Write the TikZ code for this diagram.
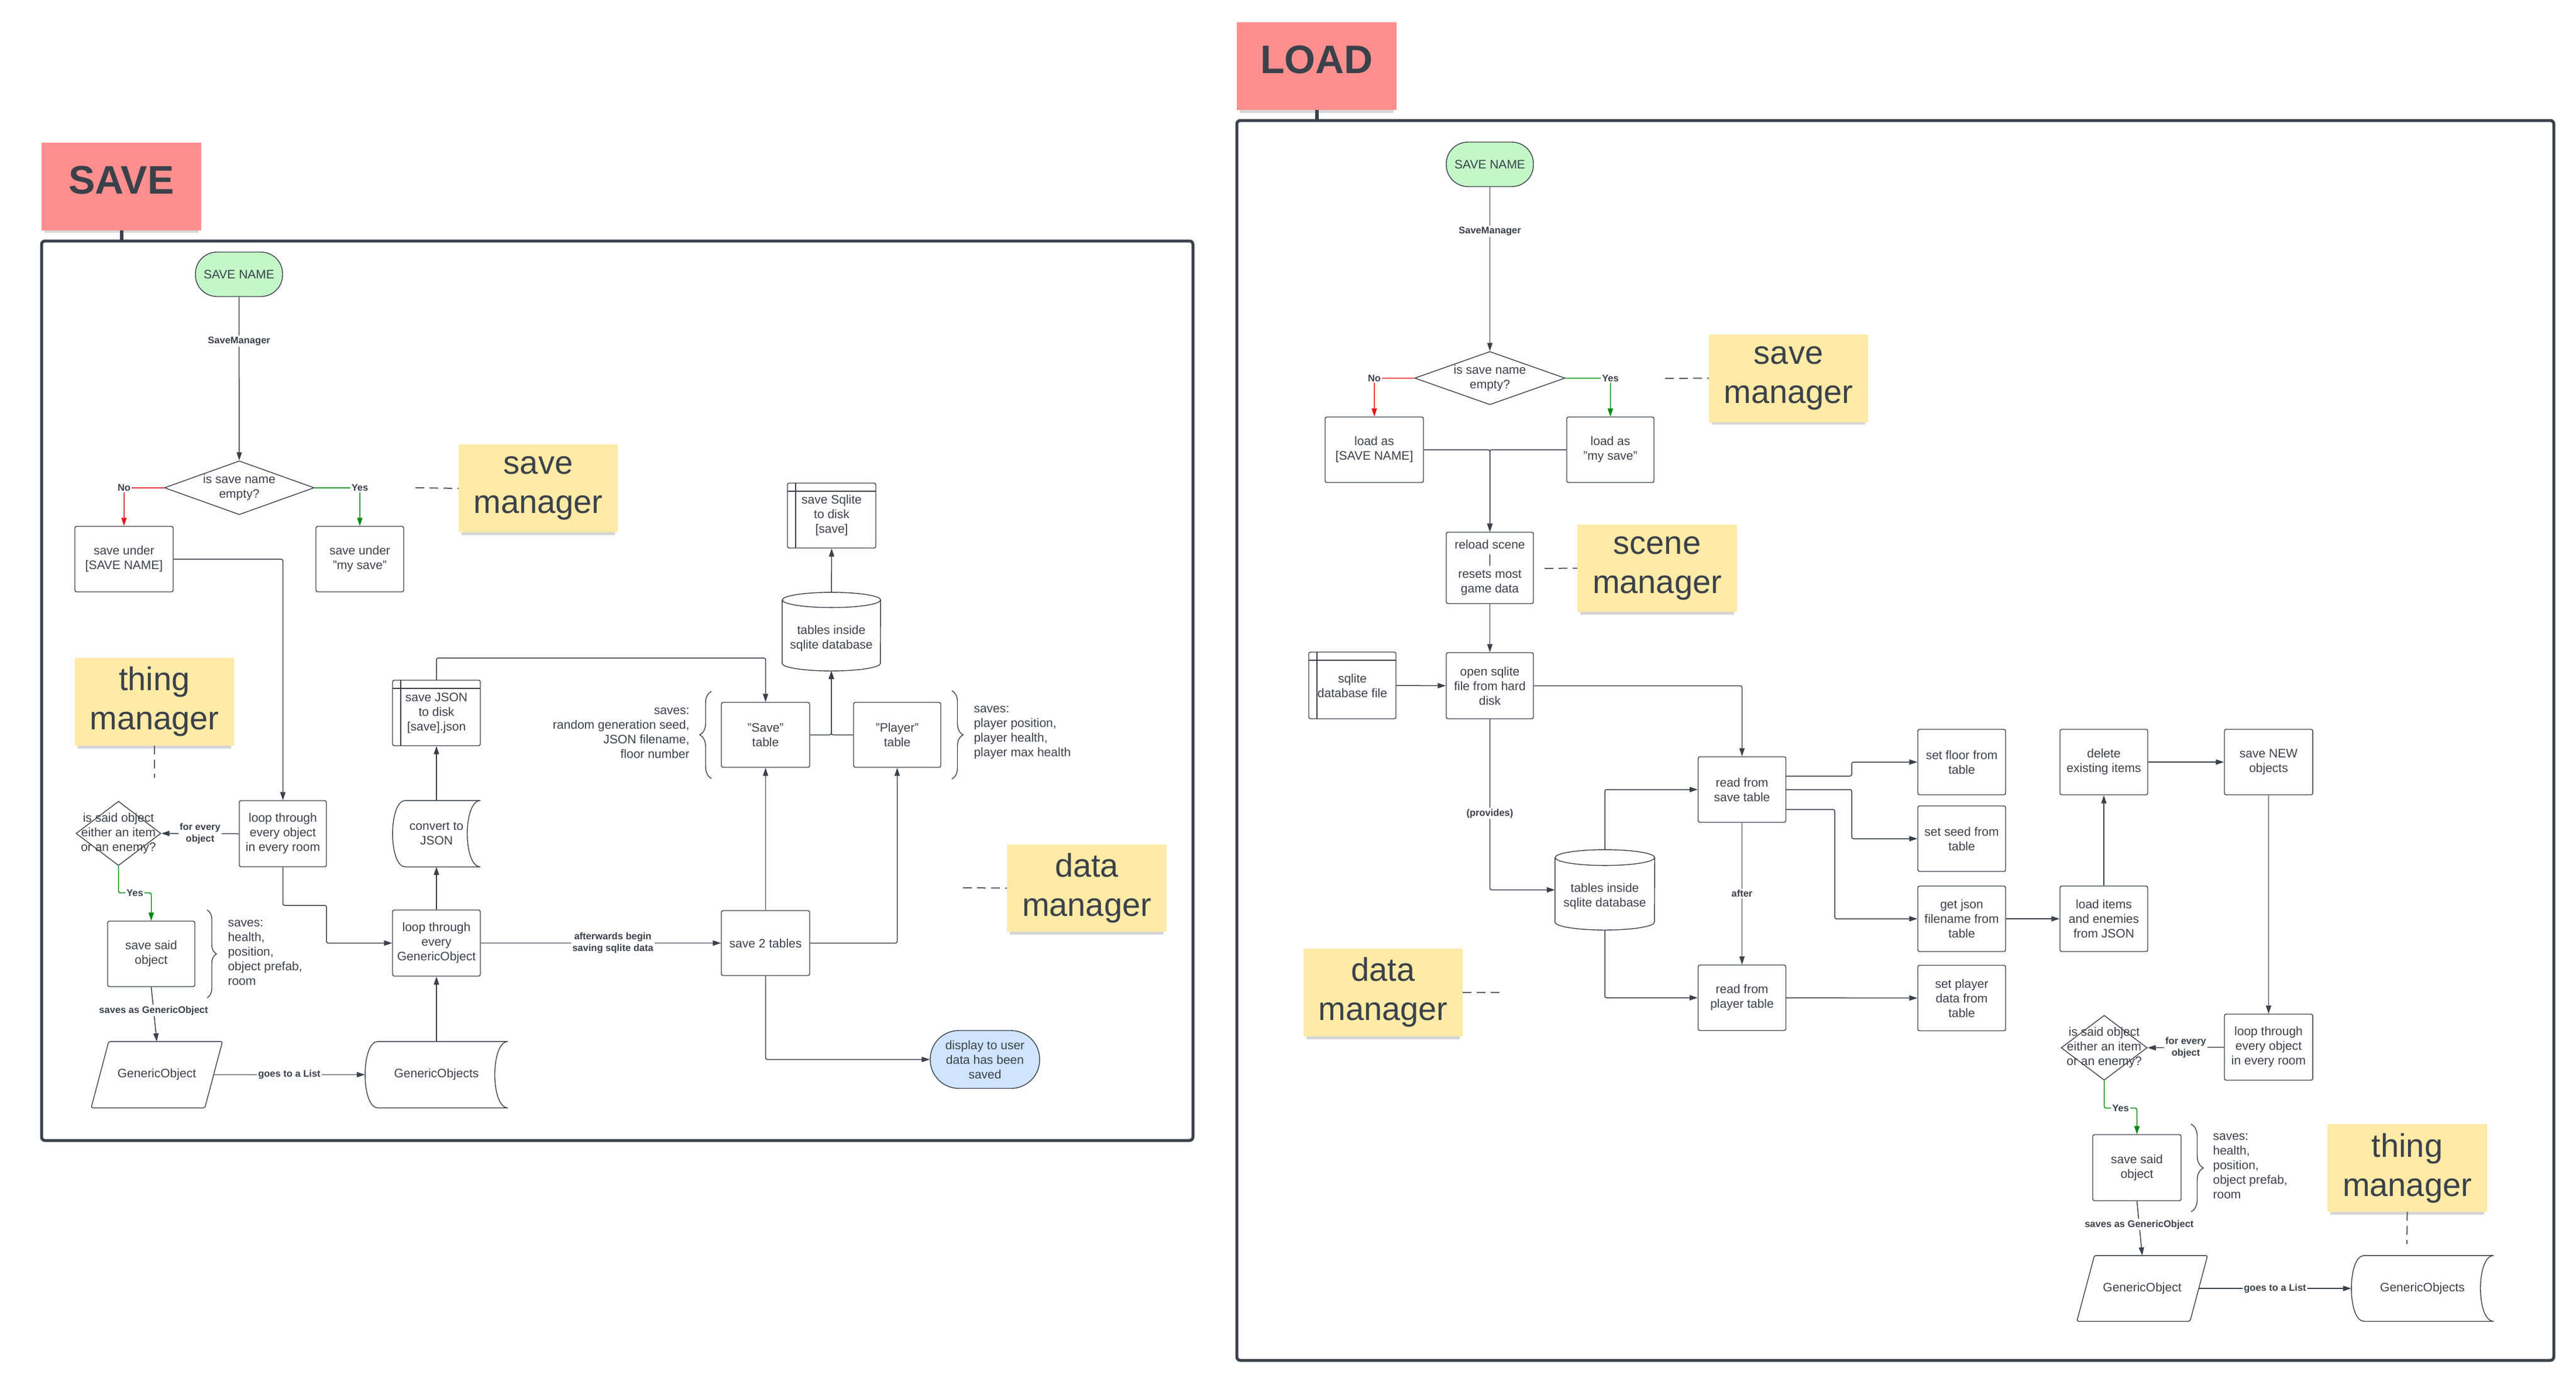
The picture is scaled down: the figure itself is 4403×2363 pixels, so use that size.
\documentclass[tikz,border=0pt]{standalone}
\usepackage{fontspec}
\setmainfont{Liberation Sans}
\usetikzlibrary{arrows.meta,decorations.pathreplacing,shapes.geometric,shadows}
\definecolor{ink}{HTML}{3A414A}
\definecolor{notey}{HTML}{FFEAA6}
\definecolor{notered}{HTML}{FF8F8F}
\definecolor{termgreen}{HTML}{C3F7C8}
\definecolor{termblue}{HTML}{CFE4FF}
\definecolor{nored}{HTML}{E81313}
\definecolor{yesgreen}{HTML}{008A0E}
\newcommand\storedoutline[1]{\draw[shapeline] ([xshift=22pt]#1.north west) -- (#1.north east) .. controls ([xshift=-30pt]#1.north east) and ([xshift=-30pt]#1.south east) .. (#1.south east) -- ([xshift=22pt]#1.south west) .. controls ([xshift=-7pt]#1.south west) and ([xshift=-7pt]#1.north west) .. ([xshift=22pt]#1.north west);}
\newcommand\paraoutline[1]{\draw[shapeline,rounded corners=3pt] ([xshift=30pt]#1.north west) -- (#1.north east) -- ([xshift=-30pt]#1.south east) -- (#1.south west) -- cycle;}
\newcommand\cylinderoutline[3]{\draw[shapeline] ([yshift=-#3pt]#1.north west) -- ([yshift=#3pt]#1.south west) arc[start angle=180,end angle=360,x radius=#2pt,y radius=#3pt] -- ([yshift=-#3pt]#1.north east) arc[start angle=0,end angle=180,x radius=#2pt,y radius=#3pt] arc[start angle=180,end angle=360,x radius=#2pt,y radius=#3pt];}
\begin{document}
\begin{tikzpicture}[x=1pt,y=-1pt,
 txt/.style={font=\fontsize{21}{25}\selectfont, text=ink, align=center},
 box/.style={txt, draw=ink, line width=1.4pt, rounded corners=3pt, fill=white, inner sep=0pt},
 term/.style={txt, draw=ink, line width=1.4pt, inner sep=0pt},
 istore/.style={box, path picture={\draw[draw=ink, line width=1.2pt] ([yshift=-14pt]path picture bounding box.north west) -- ([yshift=-14pt]path picture bounding box.north east) ([xshift=14pt]path picture bounding box.north west) -- ([xshift=14pt]path picture bounding box.south west);}},
 plainbox/.style={txt, inner sep=0pt},
 dia/.style={diamond, draw=ink, line width=1.4pt, fill=white, inner sep=0pt},
 note/.style={fill=notey, text=ink, font=\fontsize{56}{67}\selectfont, align=center, inner sep=0pt, minimum width=272pt, minimum height=150pt, drop shadow={shadow xshift=0pt, shadow yshift=-8pt, shadow scale=0.96, opacity=0.16, fill=black}},
 titlebox/.style={fill=notered, text=ink, font=\bfseries\fontsize{68}{80}\selectfont, inner sep=0pt, text depth=22pt, minimum width=273pt, minimum height=150pt, drop shadow={shadow xshift=0pt, shadow yshift=-8pt, shadow scale=0.96, opacity=0.16, fill=black}},
 conn/.style={draw=ink, line width=1.5pt, rounded corners=3pt, -{Triangle[length=14pt,width=9pt]}},
 clabel/.style={font=\bfseries\fontsize{16.5}{20}\selectfont, text=ink, fill=white, inner sep=2pt, align=center},
 dashln/.style={draw=ink!85, line width=2pt, dash pattern=on 15pt off 9pt},
 framest/.style={draw=ink, line width=5pt, rounded corners=6pt},
 stub/.style={draw=ink, line width=6pt},
 bracedec/.style={draw=ink, line width=1.4pt, decorate, decoration={brace, amplitude=#1}},
 shapeline/.style={draw=ink, line width=1.4pt}
]
\useasboundingbox (0,0) rectangle (4403,2363);

% ================= SAVE =================
\draw[framest] (71,412) rectangle (2039,1950);
\node[titlebox] (titleS) at (207.5,318.5) {SAVE};
\draw[stub] (titleS.south) -- ++(0,19);

\node[term, fill=termgreen, rounded corners=37pt, minimum width=149pt, minimum height=76pt] (snS) at (408.5,469) {SAVE NAME};
\node[dia, minimum width=256pt, minimum height=92pt, label={[txt]center:{is save name\\empty?}}] (dS) at (409,834) {};
\node[box, minimum width=168pt, minimum height=112pt] (suS1) at (212,956) {save under\\{[SAVE NAME]}};
\node[box, minimum width=150pt, minimum height=112pt] (suS2) at (615,956) {save under\\"my save"};
\node[note] (noteSM) at (920,835) {save\\manager};
\node[note] (noteTM) at (264,1200) {thing\\manager};
\node[box, minimum width=149pt, minimum height=113pt] (loopS) at (483.5,1425.5) {loop through\\every object\\in every room};
\node[dia, minimum width=145pt, minimum height=110pt, label={[txt]center:{is said object\\either an item\\or an enemy?}}] (d2S) at (202.5,1425) {};
\node[box, minimum width=149pt, minimum height=112pt] (ssS) at (258.5,1631) {save said\\object};
\draw[bracedec=16pt] (354,1556) -- (354,1706);
\node[txt, align=left, anchor=west] (svS1) at (386,1629) {saves:\\health,\\position,\\object prefab,\\room};
\node[plainbox, minimum width=224pt, minimum height=113pt] (goS) at (268,1837.5) {GenericObject};
\paraoutline{goS}
\node[plainbox, minimum width=244pt, minimum height=113pt] (gosS) at (746,1837.5) {GenericObjects};
\storedoutline{gosS}
\node[box, minimum width=150pt, minimum height=113pt] (loopGS) at (746,1612.5) {loop through\\every\\GenericObject};
\node[plainbox, minimum width=150pt, minimum height=113pt] (convS) at (746,1425.5) {convert to\\JSON};
\storedoutline{convS}
\node[istore, minimum width=150pt, minimum height=112pt] (sjS) at (746,1219) {save JSON\\to disk\\{[save]}.json};
\node[box, minimum width=151pt, minimum height=111pt] (saveT) at (1308.5,1256.5) {"Save"\\table};
\node[box, minimum width=149pt, minimum height=111pt] (playerT) at (1533.5,1256.5) {"Player"\\table};
\node[plainbox, minimum width=168pt, minimum height=134pt, label={[txt,yshift=-12pt]center:{tables inside\\sqlite database}}] (cylS) at (1421,1080) {};
\cylinderoutline{cylS}{84}{13}
\node[istore, minimum width=151pt, minimum height=111pt] (ssqS) at (1421.5,881.5) {save Sqlite\\to disk\\{[save]}};
\node[box, minimum width=151pt, minimum height=111pt] (s2S) at (1308.5,1612.5) {save 2 tables};
\node[term, fill=termblue, rounded corners=49pt, minimum width=187pt, minimum height=99pt] (dispS) at (1683.5,1811.5) {display to user\\data has been\\saved};
\draw[bracedec=20pt] (1216,1331) -- (1216,1182);
\node[txt, align=right, anchor=east] (svS2) at (1182,1253) {saves:\\random generation seed,\\JSON filename,\\floor number};
\draw[bracedec=19pt] (1627,1181) -- (1627,1332);
\node[txt, align=left, anchor=west] (svS3) at (1661,1253) {saves:\\player position,\\player health,\\player max health};
\node[note, minimum width=273pt, minimum height=149pt] (noteDM) at (1857.5,1518.5) {data\\manager};

\draw[conn] (snS) -- node[clabel, pos=0.27]{SaveManager} (dS);
\draw[conn, draw=nored] (dS.west) -| node[clabel, pos=0.5]{No} (suS1.north);
\draw[conn, draw=yesgreen] (dS.east) -| node[clabel, pos=0.5]{Yes} (suS2.north);
\draw[conn] (suS1.east) -| (loopS.north);
\draw[conn] (loopS.west) -- node[clabel]{for every\\object} (d2S.east);
\draw[conn, draw=yesgreen] (d2S.south) -- ++(0,46) -| node[clabel, pos=0.25]{Yes} (ssS.north);
\draw[conn] (ssS.south) -- node[clabel, pos=0.43]{saves as GenericObject} (goS.north);
\draw[conn] ([xshift=-15pt]goS.east) -- node[clabel]{goes to a List} (gosS.west);
\draw[conn] (gosS.north) -- (loopGS.south);
\draw[conn] (loopS.south) |- (558,1548) |- (loopGS.west);
\draw[conn] (loopGS.north) -- (convS.south);
\draw[conn] (convS.north) -- (sjS.south);
\draw[conn] (sjS.north) |- (1308.5,1125) -- (saveT.north);
\draw[conn] (loopGS.east) -- node[clabel, pos=0.55]{afterwards begin\\saving sqlite data} (s2S.west);
\draw[conn] (s2S.north) -- (saveT.south);
\draw[conn] (s2S.east) -| (playerT.south);
\draw[conn] (s2S.south) |- (dispS.west);
\draw[conn] (saveT.east) -| (cylS.south);
\draw[conn] (playerT.west) -| (cylS.south);
\draw[conn] (cylS.north) -- (ssqS.south);

\coordinate (dSM) at (710,834);
\draw[dashln] (dSM) -- (noteSM.west);
\coordinate (dTM) at (264,1330);
\draw[dashln] (noteTM.south) -- (dTM);
\coordinate (dDM) at (1646,1518);
\draw[dashln] (dDM) -- (noteDM.west);

% ================= LOAD =================
\draw[framest] (2114,206) rectangle (4365,2326);
\node[titlebox] (titleL) at (2250.5,113) {LOAD};
\draw[stub] (titleL.south) -- ++(0,19);

\node[term, fill=termgreen, rounded corners=37pt, minimum width=149pt, minimum height=76pt] (snL) at (2546.5,281) {SAVE NAME};
\node[dia, minimum width=257pt, minimum height=91pt, label={[txt]center:{is save name\\empty?}}] (dL) at (2546.5,646.5) {};
\node[box, minimum width=168pt, minimum height=112pt] (laL1) at (2349,769) {load as\\{[SAVE NAME]}};
\node[box, minimum width=149pt, minimum height=112pt] (laL2) at (2752.5,769) {load as\\"my save"};
\node[note] (noteSML) at (3057,646.5) {save\\manager};
\node[box, minimum width=149pt, minimum height=122pt] (rsL) at (2546.5,971) {reload scene\\|\\resets most\\game data};
\node[note, minimum width=273pt, minimum height=149pt] (noteScM) at (2832.5,971.5) {scene\\manager};
\node[istore, minimum width=149pt, minimum height=114pt] (sdbL) at (2311.5,1172) {sqlite\\database file};
\node[box, minimum width=149pt, minimum height=113pt] (osL) at (2546.5,1172.5) {open sqlite\\file from hard\\disk};
\node[plainbox, minimum width=170pt, minimum height=137pt, label={[txt,yshift=-11pt]center:{tables inside\\sqlite database}}] (cylL) at (2743,1521.5) {};
\cylinderoutline{cylL}{85}{13.5}
\node[box, minimum width=150pt, minimum height=112pt] (rstL) at (2977.5,1350) {read from\\save table};
\node[box, minimum width=150pt, minimum height=112pt] (rptL) at (2977.5,1706) {read from\\player table};
\node[box, minimum width=150pt, minimum height=112pt] (sfL) at (3353,1303) {set floor from\\table};
\node[box, minimum width=150pt, minimum height=112pt] (sseL) at (3353,1434) {set seed from\\table};
\node[box, minimum width=150pt, minimum height=112pt] (gjL) at (3353,1571) {get json\\filename from\\table};
\node[box, minimum width=150pt, minimum height=112pt] (spL) at (3353,1706.5) {set player\\data from\\table};
\node[box, minimum width=150pt, minimum height=112pt] (delL) at (3596,1303) {delete\\existing items};
\node[box, minimum width=150pt, minimum height=112pt] (liL) at (3596,1571) {load items\\and enemies\\from JSON};
\node[box, minimum width=151pt, minimum height=112pt] (snewL) at (3877.5,1303) {save NEW\\objects};
\node[box, minimum width=151pt, minimum height=113pt] (loopL) at (3877.5,1790.5) {loop through\\every object\\in every room};
\node[dia, minimum width=147pt, minimum height=111pt, label={[txt]center:{is said object\\either an item\\or an enemy?}}] (d2L) at (3596.5,1791.5) {};
\node[box, minimum width=151pt, minimum height=113pt] (ssL) at (3652.5,1996.5) {save said\\object};
\draw[bracedec=21pt] (3745,1922) -- (3745,2072);
\node[txt, align=left, anchor=west] (svL) at (3779,1994) {saves:\\health,\\position,\\object prefab,\\room};
\node[plainbox, minimum width=223pt, minimum height=112pt] (goL) at (3661.5,2203) {GenericObject};
\paraoutline{goL}
\node[plainbox, minimum width=243pt, minimum height=112pt] (gosL) at (4140.5,2203) {GenericObjects};
\storedoutline{gosL}
\node[note, minimum width=273pt, minimum height=150pt] (noteTML) at (4114.5,1997) {thing\\manager};
\node[note, minimum width=272pt, minimum height=150pt] (noteDML) at (2364,1697) {data\\manager};

\draw[conn] (snL) -- node[clabel, pos=0.27]{SaveManager} (dL);
\draw[conn, draw=nored] (dL.west) -| node[clabel, pos=0.5]{No} (laL1.north);
\draw[conn, draw=yesgreen] (dL.east) -| node[clabel, pos=0.5]{Yes} (laL2.north);
\draw[conn] (laL1.east) -| (rsL.north);
\draw[conn] (laL2.west) -| (rsL.north);
\draw[conn] (rsL.south) -- (osL.north);
\draw[conn] (sdbL.east) -- (osL.west);
\draw[conn] (osL.east) -| (rstL.north);
\draw[conn] (osL.south) |- node[clabel, pos=0.276]{(provides)} (cylL.west);
\draw[conn] (cylL.north) |- (rstL.west);
\draw[conn] (cylL.south) |- (rptL.west);
\draw[conn] (rstL.south) -- node[clabel, pos=0.5]{after} (rptL.north);
\draw[conn] ([yshift=23pt]rstL.east) -- (3165,1327) |- (sfL.west);
\draw[conn] (rstL.east) -- (3165,1350) |- (sseL.west);
\draw[conn] ([yshift=-34pt]rstL.east) -- (3136,1384) |- (gjL.west);
\draw[conn] (rptL.east) -- (spL.west);
\draw[conn] (gjL.east) -- (liL.west);
\draw[conn] (liL.north) -- (delL.south);
\draw[conn] (delL.east) -- (snewL.west);
\draw[conn] (snewL.south) -- (loopL.north);
\draw[conn] (loopL.west) -- node[clabel]{for every\\object} (d2L.east);
\draw[conn, draw=yesgreen] (d2L.south) -- ++(0,47) -| node[clabel, pos=0.25]{Yes} (ssL.north);
\draw[conn] (ssL.south) -- node[clabel, pos=0.43]{saves as GenericObject} (goL.north);
\draw[conn] ([xshift=-15pt]goL.east) -- node[clabel]{goes to a List} (gosL.west);

\coordinate (dSML) at (2846,647);
\draw[dashln] (dSML) -- (noteSML.west);
\coordinate (dScM) at (2640,972);
\draw[dashln] (dScM) -- (noteScM.west);
\coordinate (dDML) at (2565,1697);
\draw[dashln] (noteDML.east) -- (dDML);
\coordinate (dTML) at (4114,2127);
\draw[dashln] (noteTML.south) -- (dTML);
\end{tikzpicture}
\end{document}
